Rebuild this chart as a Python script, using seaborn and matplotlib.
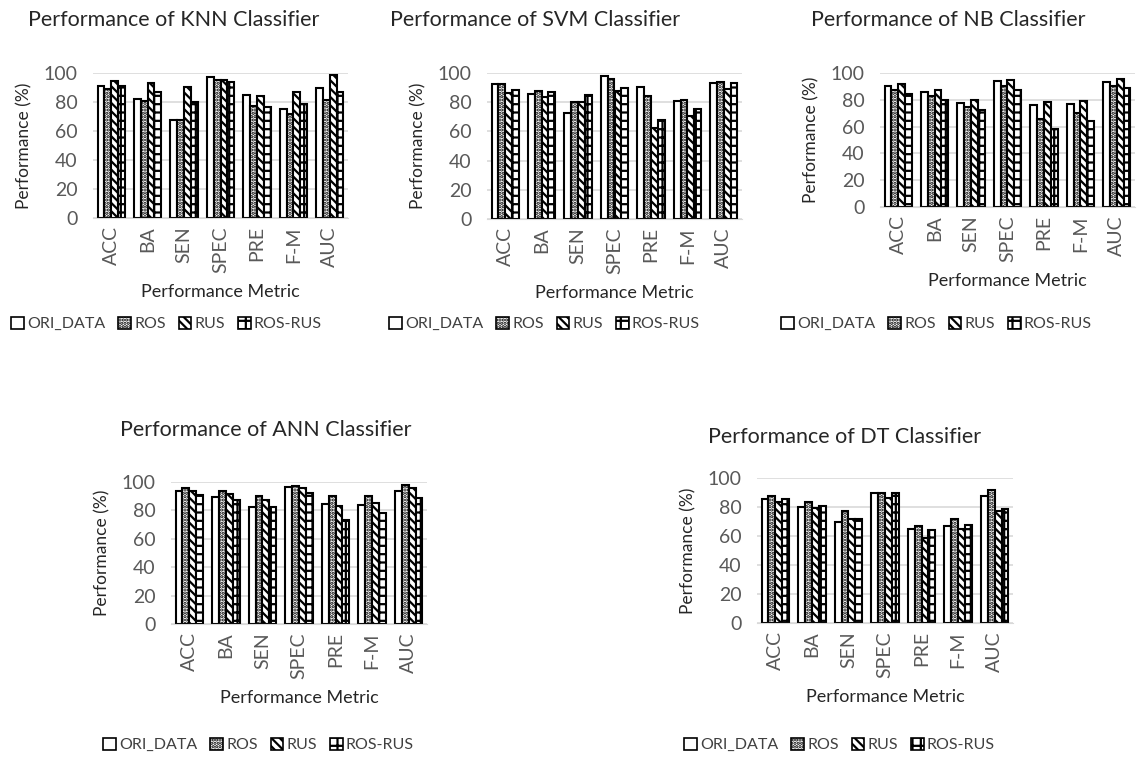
import pandas as pd
import seaborn as sns
import matplotlib.pyplot as plt
from matplotlib.patches import Patch

metrics = ['ACC', 'BA', 'SEN', 'SPEC', 'PRE', 'F-M', 'AUC']
methods = ['ORI_DATA', 'ROS', 'RUS', 'ROS-RUS']

# values per method, one list per classifier (order of metrics above)
knn_ori = [91, 82, 67.5, 97, 85, 75, 90]
knn_ros = [89, 81, 67.5, 95, 77.5, 72, 81.5]
knn_rus = [94.5, 93, 90.5, 95.5, 84, 87, 98.5]
knn_rosrus = [91, 87, 80, 94, 76.5, 78.5, 87]

svm_ori = [92.5, 85.5, 72.5, 98, 90.5, 80.5, 93]
svm_ros = [92.5, 88, 80, 96, 84, 81.5, 93.5]
svm_rus = [86.5, 83.5, 80, 87.5, 62.5, 70.5, 89]
svm_rosrus = [88.5, 87, 85, 89.5, 68, 75.5, 93]

nb_ori = [90.5, 86, 77.5, 94, 76, 77, 93]
nb_ros = [87, 82.5, 75, 90, 65.5, 70.5, 90]
nb_rus = [91.5, 87.5, 80, 94.5, 78, 79, 95.5]
nb_rosrus = [84, 79.5, 72.5, 87, 58.5, 64.5, 88.5]

ann_ori = [93.5, 89.5, 82.5, 96.5, 84.5, 83.5, 94]
ann_ros = [96, 93.5, 90, 97.5, 90, 90, 98]
ann_rus = [94, 91.5, 87.5, 95.5, 83, 85, 95.5]
ann_rosrus = [90.5, 87.5, 82.5, 92.5, 73.5, 78, 89]

dt_ori = [85.5, 80, 69.5, 90, 65, 67, 87.5]
dt_ros = [87.5, 83.5, 77, 90, 67, 71.5, 91.5]
dt_rus = [83.5, 79, 72, 86.5, 58.5, 64.5, 77.5]
dt_rosrus = [85.5, 80.5, 72, 89.5, 64, 67.5, 78.5]

# name, data, axes box (px), legend x, title (x, y) in px
panels = [
    ('KNN', [knn_ori, knn_ros, knn_rus, knn_rosrus], (93, 348, 73, 218), 5, (174, 20)),
    ('SVM', [svm_ori, svm_ros, svm_rus, svm_rosrus], (487, 742, 73, 219), 383, (535, 20)),
    ('NB', [nb_ori, nb_ros, nb_rus, nb_rosrus], (880, 1135, 73, 207), 775, (948, 20)),
    ('ANN', [ann_ori, ann_ros, ann_rus, ann_rosrus], (171, 427, 482, 624), 97, (266, 430)),
    ('DT', [dt_ori, dt_ros, dt_rus, dt_rosrus], (757, 1013, 478, 623), 678, (845, 437)),
]

hatches = ['', '.....', '\\\\\\\\', '++']

sns.set_style('white')
plt.rcParams['font.family'] = ['Lato', 'DejaVu Sans']
plt.rcParams['hatch.linewidth'] = 1.6

W, H = 1142, 769
fig = plt.figure(figsize=(W / 100, H / 100), dpi=100)

for name, series, (x0, x1, yt, yb), leg_x, (tx, ty) in panels:
    ax = fig.add_axes([x0 / W, 1 - yb / H, (x1 - x0) / W, (yb - yt) / H])
    df = pd.DataFrame({
        'metric': metrics * 4,
        'method': [m for m in methods for _ in metrics],
        'value': [v for s in series for v in s],
    })
    sns.barplot(data=df, x='metric', y='value', hue='method', ax=ax,
                palette=['white'] * 4, edgecolor='black', linewidth=1.5,
                width=0.75, legend=False)
    for cont, h in zip(ax.containers, hatches):
        for bar in cont:
            bar.set_hatch(h)
    ax.set_ylim(0, 100)
    ax.set_yticks(range(0, 101, 20))
    ax.yaxis.grid(True, color='#d9d9d9', linewidth=1.2)
    ax.set_axisbelow(True)
    for s in ['top', 'right', 'left']:
        ax.spines[s].set_visible(False)
    ax.spines['bottom'].set_color('#d9d9d9')
    ax.tick_params(axis='both', length=0, labelsize=14, colors='#595959')
    ax.tick_params(axis='y', pad=11)
    ax.tick_params(axis='x', rotation=90, pad=6)
    ax.set_xlabel('Performance Metric', fontsize=13, color='#262626', labelpad=8)
    ax.set_ylabel('Performance (%)', fontsize=12.5, color='#262626', labelpad=8)
    fig.text(tx / W, 1 - ty / H, f'Performance of {name} Classifier',
             fontsize=15.5, ha='center', va='center', color='#262626')

    handles = [Patch(facecolor='white', edgecolor='black', hatch=h, linewidth=1.2)
               for h in hatches]
    leg_y = 324 if yt < 300 else 745
    fig.legend(handles, methods, loc='center left',
               bbox_to_anchor=(leg_x / W, 1 - leg_y / H), ncol=4, frameon=False,
               fontsize=11.5, handlelength=0.8, handleheight=0.8,
               handletextpad=0.2, columnspacing=0.8, borderaxespad=0,
               labelcolor='#404040')

fig.savefig('out.png', dpi=100)
